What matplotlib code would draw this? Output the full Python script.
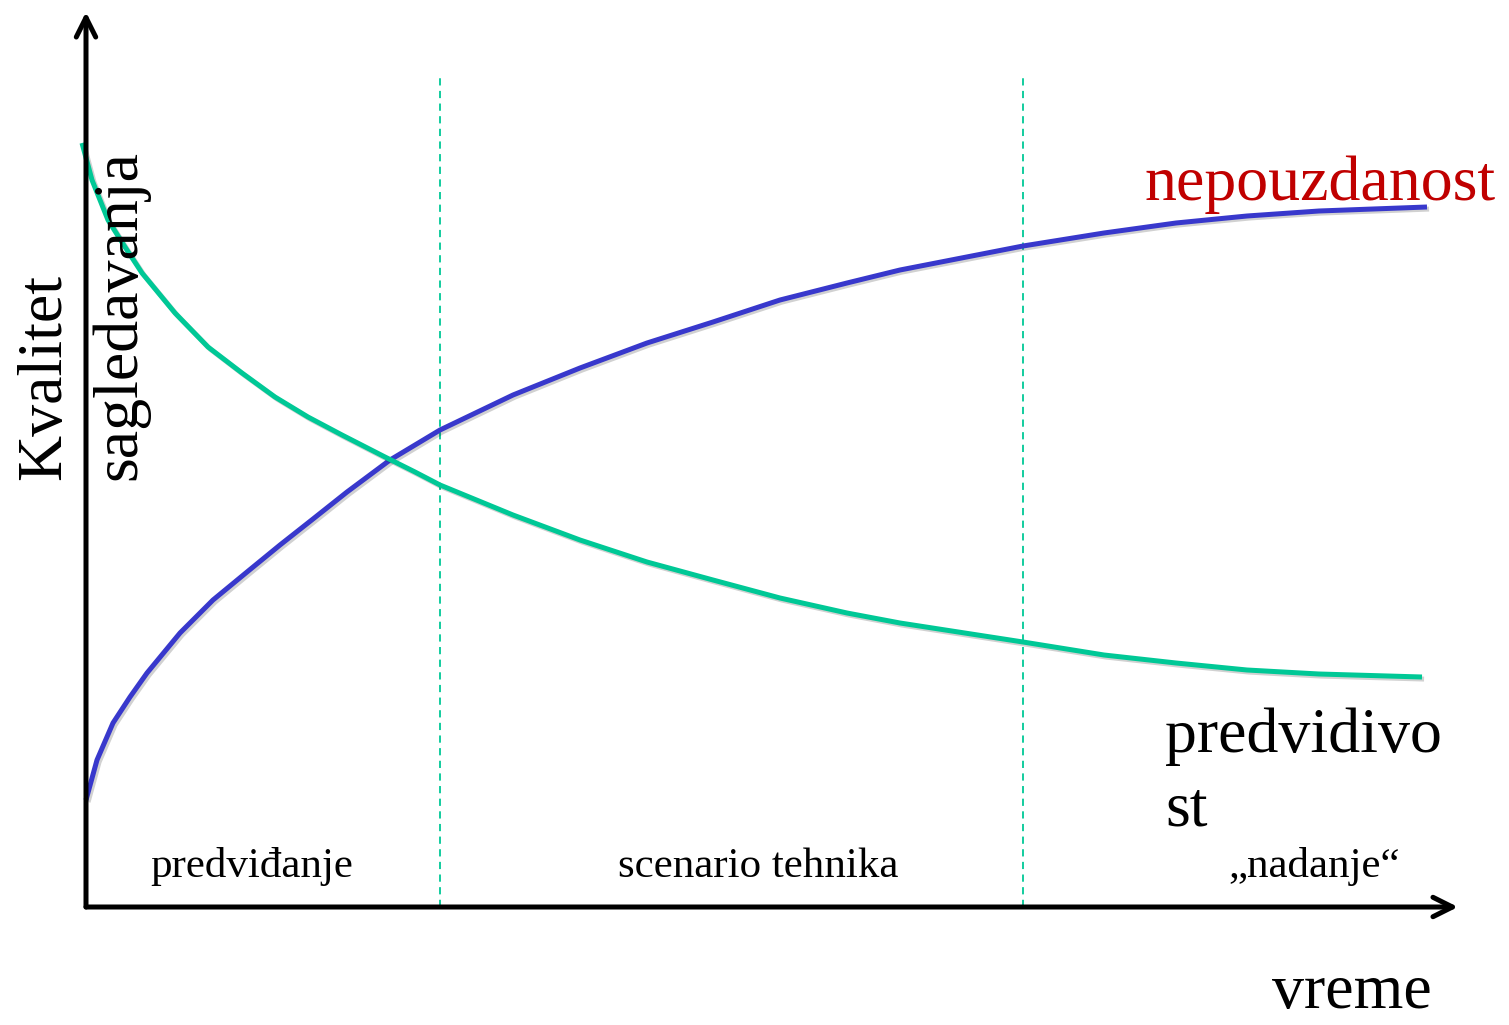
import matplotlib.pyplot as plt
import matplotlib.patheffects as pe

plt.rcParams['font.family'] = ['Liberation Serif', 'DejaVu Serif']

# curves (time, value)
blue_t = [0, 0.11, 0.27, 0.44, 0.61, 0.94, 1.27, 1.61, 1.94, 2.27, 2.61, 3.04, 3.54,
          4.27, 4.94, 5.61, 6.27, 6.94, 7.61, 8.14, 9.37, 10.18, 10.90, 11.61, 12.33, 13.41]
blue_v = [1.07, 1.47, 1.84, 2.10, 2.34, 2.74, 3.07, 3.35, 3.62, 3.88, 4.15, 4.47, 4.77,
          5.12, 5.39, 5.64, 5.85, 6.07, 6.24, 6.37, 6.61, 6.74, 6.84, 6.91, 6.96, 7.00]

teal_t = [-0.04, 0.06, 0.22, 0.39, 0.56, 0.89, 1.22, 1.56, 1.89, 2.22, 2.56, 2.99, 3.29, 3.54,
          4.27, 4.94, 5.61, 6.27, 6.94, 7.61, 8.14, 9.37, 10.18, 10.90, 11.61, 12.33, 13.36]
teal_v = [7.64, 7.27, 6.87, 6.60, 6.34, 5.94, 5.60, 5.34, 5.10, 4.90, 4.72, 4.50, 4.35, 4.22,
          3.92, 3.67, 3.45, 3.27, 3.09, 2.94, 2.84, 2.65, 2.52, 2.44, 2.37, 2.33, 2.30]

phase_bounds = [3.54, 9.37]
phase_labels = ['predviđanje', 'scenario tehnika', '„nadanje“']
phase_label_x = [0.64, 5.32, 11.42]

blue_col = '#3838cc'
teal_col = '#00c896'

fig = plt.figure(figsize=(15.09, 10.25), dpi=100)
ax = fig.add_axes([0, 0, 1, 1])
ax.set_xlim(-0.86, 14.23)
ax.set_ylim(-1.18, 9.07)
ax.axis('off')

shadow = [pe.SimpleLineShadow(offset=(1.5, -1.5), alpha=0.18), pe.Normal()]

# axes with open arrow heads
for end in [(0, 8.95), (13.72, 0)]:
    ax.annotate('', xy=end, xytext=(0, 0),
                arrowprops=dict(arrowstyle='->', lw=3.6, color='black',
                                mutation_scale=35, shrinkA=0, shrinkB=0))

for b in phase_bounds:
    ax.plot([b, b], [0, 8.32], color=teal_col, lw=1.3, ls=(0, (4, 3)))

ax.plot(blue_t, blue_v, color=blue_col, lw=3.6, solid_capstyle='butt',
        solid_joinstyle='round', path_effects=shadow)
ax.plot(teal_t, teal_v, color=teal_col, lw=3.6, solid_capstyle='butt',
        solid_joinstyle='round', path_effects=shadow)

for lab, x in zip(phase_labels, phase_label_x):
    ax.text(x, 0.30, lab, fontsize=31, ha='left', va='baseline')

ax.text(-0.26, 4.27, 'Kvalitet', fontsize=46, rotation=90, rotation_mode='anchor',
        ha='left', va='baseline')
ax.text(0.49, 4.27, 'sagledavanja', fontsize=46, rotation=90, rotation_mode='anchor',
        ha='left', va='baseline')
ax.text(10.59, 7.07, 'nepouzdanost', fontsize=46, color='#c00000', ha='left', va='baseline')
ax.text(10.79, 1.55, 'predvidivo', fontsize=46, ha='left', va='baseline')
ax.text(10.79, 0.81, 'st', fontsize=46, ha='left', va='baseline')
ax.text(11.86, -1.01, 'vreme', fontsize=46, ha='left', va='baseline')

fig.savefig('out.png', dpi=100)
